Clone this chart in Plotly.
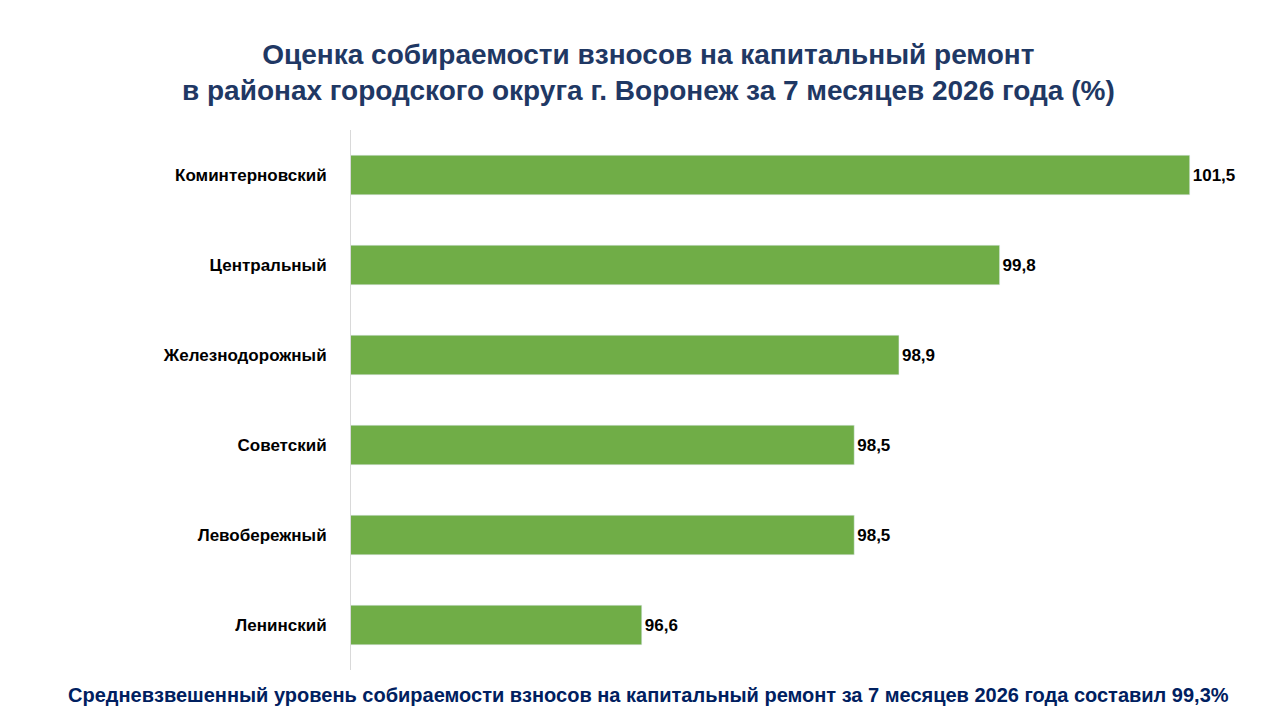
import plotly.graph_objects as go

districts = ["Ленинский", "Левобережный", "Советский", "Железнодорожный", "Центральный", "Коминтерновский"]
values = [96.6, 98.5, 98.5, 98.9, 99.8, 101.5]
labels = [f"{v:.1f}".replace(".", ",") for v in values]

fig = go.Figure(go.Bar(
    y=districts, x=values, orientation="h",
    marker=dict(color="#70AD47"), width=0.44,
    text=labels, textposition="outside", cliponaxis=False,
    textfont=dict(size=17, color="black", weight="bold"),
))

fig.update_layout(
    width=1280, height=720,
    paper_bgcolor="white", plot_bgcolor="white",
    margin=dict(l=0, r=0, t=0, b=0, autoexpand=False),
    showlegend=False,
    font=dict(family="Arial, Liberation Sans"),
    xaxis=dict(range=[94, 102.2], domain=[343/1280, 1260/1280], visible=False),
    yaxis=dict(domain=[1 - 662/720, 1 - 122/720], showline=True, linecolor="#D9D9D9",
               ticks="", ticklabelstandoff=20,
               tickfont=dict(size=17, color="black", weight="bold")),
    annotations=[
        dict(text="<b>Оценка собираемости взносов на капитальный ремонт<br>в районах городского округа г. Воронеж за 7 месяцев 2026 года (%)</b>",
             x=0.5, y=1 - 64/720, xref="paper", yref="paper", yanchor="middle", showarrow=False,
             font=dict(size=28, color="#1F3864"), align="center"),
        dict(text="<b>Средневзвешенный уровень собираемости взносов на капитальный ремонт за 7 месяцев 2026 года составил 99,3%</b>",
             x=0.5, y=1 - 687/720, xref="paper", yref="paper", yanchor="middle", showarrow=False,
             font=dict(size=20, color="#002060")),
    ],
)
fig.write_html("out.html")
